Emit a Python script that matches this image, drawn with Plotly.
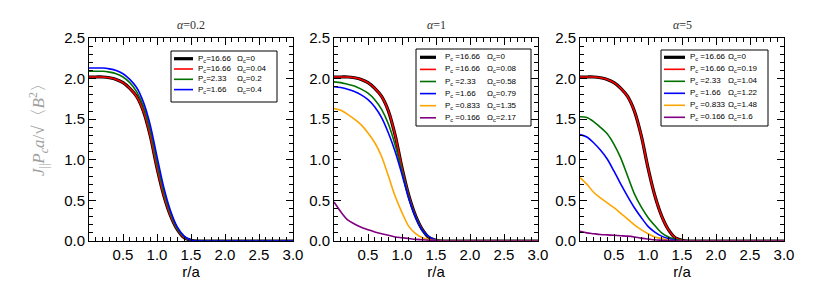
import plotly.graph_objects as go
from plotly.subplots import make_subplots

# ---------------- data ----------------
r = [0.0, 0.1, 0.2, 0.3, 0.4, 0.5, 0.6, 0.7, 0.8, 0.9, 1.0, 1.1, 1.2, 1.3, 1.4, 1.5, 1.6, 2.0, 2.5, 3.0]

panel_titles = ["<i>α</i>=0.2", "<i>α</i>=1", "<i>α</i>=5"]

# alpha = 0.2
a02_black = [2.02, 2.02, 2.02, 2.01, 1.99, 1.95, 1.88, 1.78, 1.60, 1.30, 0.90, 0.56, 0.31, 0.14, 0.04, 0.01, 0.0, 0.0, 0.0, 0.0]
a02_red = [2.02, 2.02, 2.02, 2.01, 1.99, 1.95, 1.88, 1.78, 1.60, 1.30, 0.90, 0.56, 0.31, 0.14, 0.04, 0.01, 0.0, 0.0, 0.0, 0.0]
a02_green = [2.09, 2.09, 2.09, 2.08, 2.06, 2.02, 1.95, 1.84, 1.66, 1.37, 0.97, 0.61, 0.34, 0.15, 0.05, 0.01, 0.0, 0.0, 0.0, 0.0]
a02_blue = [2.13, 2.13, 2.13, 2.12, 2.10, 2.06, 1.99, 1.89, 1.71, 1.43, 1.04, 0.66, 0.37, 0.17, 0.06, 0.01, 0.0, 0.0, 0.0, 0.0]

# alpha = 1
a1_black = [2.02, 2.02, 2.02, 2.01, 1.99, 1.95, 1.88, 1.78, 1.60, 1.30, 0.90, 0.56, 0.31, 0.14, 0.04, 0.01, 0.0, 0.0, 0.0, 0.0]
a1_red = [2.02, 2.02, 2.02, 2.01, 1.99, 1.95, 1.88, 1.78, 1.60, 1.30, 0.90, 0.56, 0.31, 0.14, 0.04, 0.01, 0.0, 0.0, 0.0, 0.0]
a1_green = [1.96, 1.95, 1.93, 1.91, 1.87, 1.82, 1.74, 1.62, 1.44, 1.18, 0.86, 0.54, 0.30, 0.13, 0.05, 0.01, 0.0, 0.0, 0.0, 0.0]
a1_blue = [1.90, 1.89, 1.87, 1.84, 1.80, 1.74, 1.65, 1.52, 1.33, 1.10, 0.82, 0.52, 0.29, 0.13, 0.05, 0.01, 0.0, 0.0, 0.0, 0.0]
a1_orange = [1.63, 1.61, 1.56, 1.50, 1.43, 1.33, 1.21, 1.04, 0.80, 0.55, 0.35, 0.18, 0.09, 0.04, 0.015, 0.005, 0.0, 0.0, 0.0, 0.0]
a1_purple = [0.48, 0.36, 0.26, 0.21, 0.17, 0.14, 0.11, 0.09, 0.07, 0.05, 0.04, 0.03, 0.02, 0.015, 0.01, 0.005, 0.0, 0.0, 0.0, 0.0]

# alpha = 5
a5_black = [2.02, 2.02, 2.02, 2.01, 1.99, 1.95, 1.88, 1.78, 1.60, 1.30, 0.90, 0.56, 0.31, 0.14, 0.04, 0.01, 0.0, 0.0, 0.0, 0.0]
a5_red = [2.02, 2.02, 2.02, 2.01, 1.99, 1.95, 1.88, 1.78, 1.60, 1.30, 0.90, 0.56, 0.31, 0.14, 0.04, 0.01, 0.0, 0.0, 0.0, 0.0]
a5_green = [1.53, 1.52, 1.47, 1.40, 1.32, 1.19, 1.02, 0.80, 0.58, 0.42, 0.29, 0.19, 0.10, 0.05, 0.02, 0.005, 0.0, 0.0, 0.0, 0.0]
a5_blue = [1.31, 1.28, 1.21, 1.12, 1.01, 0.86, 0.70, 0.55, 0.41, 0.29, 0.18, 0.11, 0.06, 0.03, 0.01, 0.003, 0.0, 0.0, 0.0, 0.0]
a5_orange = [0.78, 0.70, 0.60, 0.53, 0.47, 0.41, 0.34, 0.27, 0.20, 0.14, 0.09, 0.05, 0.03, 0.01, 0.003, 0.0, 0.0, 0.0, 0.0, 0.0]
a5_purple = [0.12, 0.10, 0.09, 0.08, 0.075, 0.07, 0.065, 0.06, 0.05, 0.035, 0.025, 0.015, 0.01, 0.005, 0.002, 0.0, 0.0, 0.0, 0.0, 0.0]

# legend labels
pc_a02 = ["16.66", "16.66", "2.33", "1.66"]
om_a02 = ["0", "0.04", "0.2", "0.4"]
pc_a1 = ["16.66", "16.66", "2.33", "1.66", "0.833", "0.166"]
om_a1 = ["0", "0.08", "0.58", "0.79", "1.35", "2.17"]
pc_a5 = ["16.66", "16.66", "2.33", "1.66", "0.833", "0.166"]
om_a5 = ["0", "0.19", "1.04", "1.22", "1.48", "1.6"]

colors = ["#000000", "#FF0000", "#007000", "#0000FF", "#FFA500", "#800080"]
widths = [3.2, 1.6, 1.6, 1.6, 1.6, 1.6]

panels = [
    dict(series=[a02_black, a02_red, a02_green, a02_blue], pc=pc_a02, om=om_a02, sep="="),
    dict(series=[a1_black, a1_red, a1_green, a1_blue, a1_orange, a1_purple], pc=pc_a1, om=om_a1, sep=" ="),
    dict(series=[a5_black, a5_red, a5_green, a5_blue, a5_orange, a5_purple], pc=pc_a5, om=om_a5, sep=" ="),
]

# ---------------- layout geometry ----------------
W, H = 817, 283
ML, MR, MT, MB = 81, 41, 30, 50
PW = W - ML - MR
PH = H - MT - MB
panel_left_px = [81, 326, 572]
panel_w_px = 204

def px2x(px):
    return (px - ML) / PW

def py2y(py):
    return (H - MB - py) / PH

# legend geometry per panel (pixel offsets relative to panel left / figure top)
leg_geo = [
    dict(box=(82, 188, 43, 94), line=(85, 104), ptx=107, omx=146, y0=50.7, dy=10.3),
    dict(box=(82, 197, 41, 118), line=(86, 102), ptx=109, omx=151, y0=49.3, dy=12.1),
    dict(box=(81, 188, 42, 118), line=(84, 105), ptx=108, omx=146, y0=49.3, dy=12.0),
]

fig = make_subplots(rows=1, cols=3)

font_tick = dict(family="Liberation Sans, Arial, sans-serif", size=15, color="#000000")
font_leg = dict(family="Liberation Sans, Arial, sans-serif", size=8, color="#000")

shapes = []
annotations = []

for k, p in enumerate(panels):
    col = k + 1
    for i, ys in enumerate(p["series"]):
        fig.add_trace(
            go.Scatter(
                x=r, y=ys, mode="lines",
                line=dict(color=colors[i], width=widths[i], shape="spline", smoothing=0.8),
                showlegend=False, hoverinfo="skip",
            ),
            row=1, col=col,
        )
    left = panel_left_px[k]
    dom = [px2x(left), px2x(left + panel_w_px)]
    axname = "xaxis" if k == 0 else f"xaxis{col}"
    ayname = "yaxis" if k == 0 else f"yaxis{col}"
    fig.layout[axname].update(
        domain=dom, range=[0, 3.0], tickvals=[0.5, 1.0, 1.5, 2.0, 2.5, 3.0],
        ticktext=["0.5", "1.0", "1.5", "2.0", "2.5", "3.0"],
        ticks="inside", ticklen=7, tickwidth=1, tickcolor="#000",
        minor=dict(dtick=0.1, tick0=0, ticks="inside", ticklen=4, tickcolor="#000"),
        showline=True, linecolor="#000", linewidth=1, mirror="allticks",
        showgrid=False, zeroline=False, tickfont=font_tick,
        title=dict(text="r/a", font=dict(family="Liberation Sans, Arial, sans-serif", size=15, color="#000"), standoff=4),
    )
    fig.layout[ayname].update(
        domain=[0, 1], range=[0, 2.5], tickvals=[0, 0.5, 1.0, 1.5, 2.0, 2.5],
        ticktext=["0.0", "0.5", "1.0", "1.5", "2.0", "2.5"],
        ticks="inside", ticklen=7, tickwidth=1, tickcolor="#000",
        minor=dict(dtick=0.1, tick0=0, ticks="inside", ticklen=4, tickcolor="#000"),
        showline=True, linecolor="#000", linewidth=1, mirror="allticks",
        showgrid=False, zeroline=False, tickfont=font_tick,
    )
    # panel title
    annotations.append(dict(
        text=panel_titles[k], xref="paper", yref="paper",
        x=px2x(left + panel_w_px / 2), y=py2y(17), xanchor="center", yanchor="middle",
        showarrow=False, font=dict(family="Liberation Serif, Times New Roman, serif", size=12, color="#333"),
    ))
    # legend
    g = leg_geo[k]
    bx0, bx1, by0, by1 = g["box"]
    shapes.append(dict(type="rect", xref="paper", yref="paper",
                       x0=px2x(left + bx0), x1=px2x(left + bx1), y0=py2y(by1), y1=py2y(by0),
                       line=dict(color="#000", width=1), fillcolor="white", layer="above"))
    for i in range(len(p["pc"])):
        yy = g["y0"] + i * g["dy"]
        shapes.append(dict(type="line", xref="paper", yref="paper",
                           x0=px2x(left + g["line"][0]), x1=px2x(left + g["line"][1]),
                           y0=py2y(yy), y1=py2y(yy),
                           line=dict(color=colors[i], width=widths[i]), layer="above"))
        annotations.append(dict(
            text=f"P<sub>c</sub>{p['sep']}{p['pc'][i]}", xref="paper", yref="paper",
            x=px2x(left + g["ptx"]), y=py2y(yy), xanchor="left", yanchor="middle",
            showarrow=False, font=font_leg,
        ))
        annotations.append(dict(
            text=f"Ω<sub>c</sub>={p['om'][i]}", xref="paper", yref="paper",
            x=px2x(left + g["omx"]), y=py2y(yy), xanchor="left", yanchor="middle",
            showarrow=False, font=font_leg,
        ))

# y-axis title
annotations.append(dict(
    text="<i>J</i><sub>||</sub><i>P</i><sub><i>c</i></sub><i>a</i>/√〈<i>B</i><sup>2</sup>〉",
    xref="paper", yref="paper", x=px2x(30), y=py2y(118), textangle=-90,
    xanchor="center", yanchor="middle", showarrow=False,
    font=dict(family="Liberation Serif, Times New Roman, serif", size=17, color="#A0A0A0"),
))

fig.update_layout(
    width=W, height=H,
    margin=dict(l=ML, r=MR, t=MT, b=MB, autoexpand=False),
    paper_bgcolor="white", plot_bgcolor="white",
    shapes=shapes, annotations=annotations,
    showlegend=False,
)

fig.write_html("out.html")
